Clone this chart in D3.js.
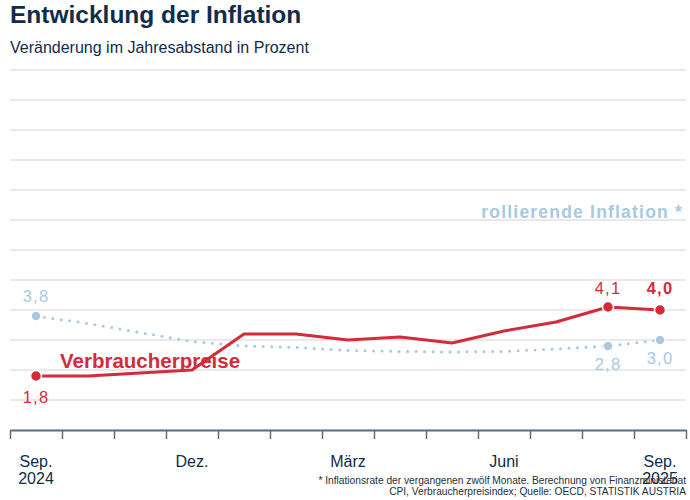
<!DOCTYPE html>
<html>
<head>
<meta charset="utf-8">
<script src="https://cdn.jsdelivr.net/npm/d3@7"></script>
<style>
  body { margin: 0; background: #fff; }
  svg { display: block; font-family: "Liberation Sans", Arial, sans-serif; }
</style>
</head>
<body>
<div id="chart"></div>
<script>
// Monate September 2024 bis September 2025
const months = ["Sep. 2024", "Okt.", "Nov.", "Dez.", "Jän.", "Feb.", "März", "Apr.", "Mai", "Juni", "Juli", "Aug.", "Sep. 2025"];
// Verbraucherpreise, Veränderung zum Vorjahresmonat
const cpi = [1.8, 1.8, 1.9, 2.0, 3.2, 3.2, 3.0, 3.1, 2.9, 3.3, 3.6, 4.1, 4.0];
// rollierende Inflation (vergangene zwölf Monate)
const rolling = [3.8, 3.55, 3.25, 2.95, 2.8, 2.75, 2.65, 2.62, 2.6, 2.62, 2.7, 2.8, 3.0];
// beschriftete Achsenmonate
const tickLabels = [["Sep.", "2024"], null, null, ["Dez."], null, null, ["März"], null, null, ["Juni"], null, null, ["Sep.", "2025"]];
const yTicks = [1, 2, 3, 4, 5, 6, 7, 8, 9, 10, 11, 12];

const width = 690, height = 500;
const navy = "#0f2d4a";
const red = "#d42b3a";
const blue = "#a9c9e2";

const svg = d3.select("#chart").append("svg")
    .attr("width", width)
    .attr("height", height);

const x = d3.scalePoint().domain(months).range([10, 686]).padding(0.5);
const y = d3.scaleLinear().domain([0, 12]).range([430, 70]);

// Titel
svg.append("text")
    .attr("x", 10).attr("y", 23)
    .attr("font-size", 24.5).attr("font-weight", "bold")
    .attr("fill", navy)
    .text("Entwicklung der Inflation");

svg.append("text")
    .attr("x", 10).attr("y", 53)
    .attr("font-size", 16)
    .attr("fill", navy)
    .text("Veränderung im Jahresabstand in Prozent");

// Gitterlinien
svg.append("g")
    .selectAll("line")
    .data(yTicks)
    .enter()
    .append("line")
    .attr("x1", 10).attr("x2", 686)
    .attr("y1", d => y(d)).attr("y2", d => y(d))
    .attr("stroke", "#e2e2e2")
    .attr("stroke-width", 1.5);

// x-Achse mit Strichen an den Monatsgrenzen
const xb = d3.scaleLinear().domain([-0.5, months.length - 0.5]).range([10, 686]);
const axis = svg.append("g")
    .attr("transform", `translate(0,${y(0)})`)
    .call(d3.axisBottom(xb)
        .tickValues(d3.range(-0.5, months.length))
        .tickFormat("")
        .tickSize(9)
        .tickSizeOuter(0));
axis.select(".domain").attr("stroke", "#5d6d7b").attr("stroke-width", 2);
axis.selectAll(".tick line").attr("stroke", "#5d6d7b").attr("stroke-width", 1.5);

// Fußnote (liegt wie im Original unter der Achsenbeschriftung)
const note = svg.append("text")
    .attr("x", 686).attr("y", 484)
    .attr("text-anchor", "end")
    .attr("font-size", 10.2)
    .attr("fill", "#1e2f40");
note.append("tspan").attr("x", 686).text("* Inflationsrate der vergangenen zwölf Monate. Berechnung von Finanzministeriat");
note.append("tspan").attr("x", 686).attr("dy", 11).text("CPI, Verbraucherpreisindex; Quelle: OECD, STATISTIK AUSTRIA");

const lbl = svg.append("g");
months.forEach((m, i) => {
    if (!tickLabels[i]) return;
    const t = lbl.append("text")
        .attr("x", x(m)).attr("y", 467)
        .attr("text-anchor", "middle")
        .attr("font-size", 16)
        .attr("fill", navy);
    tickLabels[i].forEach((s, k) => {
        t.append("tspan").attr("x", x(m)).attr("dy", k ? 17 : 0).text(s);
    });
});

const line = d3.line()
    .x((d, i) => x(months[i]))
    .y(d => y(d));

// rollierende Inflation (gepunktet)
svg.append("path")
    .datum(rolling)
    .attr("d", line)
    .attr("fill", "none")
    .attr("stroke", blue)
    .attr("stroke-width", 3)
    .attr("stroke-linecap", "round")
    .attr("stroke-dasharray", "0,8.5");

// Verbraucherpreise
svg.append("path")
    .datum(cpi)
    .attr("d", line)
    .attr("fill", "none")
    .attr("stroke", red)
    .attr("stroke-width", 3)
    .attr("stroke-linejoin", "round");

const ends = [0, months.length - 2, months.length - 1];
svg.append("g")
    .selectAll("circle")
    .data(ends)
    .enter()
    .append("circle")
    .attr("cx", i => x(months[i]))
    .attr("cy", i => y(rolling[i]))
    .attr("r", 5)
    .attr("fill", blue)
    .attr("stroke", "#fff")
    .attr("stroke-width", 1.5);

svg.append("g")
    .selectAll("circle")
    .data(ends)
    .enter()
    .append("circle")
    .attr("cx", i => x(months[i]))
    .attr("cy", i => y(cpi[i]))
    .attr("r", 5.5)
    .attr("fill", red)
    .attr("stroke", "#fff")
    .attr("stroke-width", 1.5);

// Wertebeschriftungen
const fmt = v => d3.format(".1f")(v).replace(".", ",");
const valueLabel = (i, v, dy, color, bold) => {
    svg.append("text")
        .attr("x", x(months[i])).attr("y", y(v) + dy)
        .attr("text-anchor", "middle")
        .attr("font-size", 16.5)
        .attr("letter-spacing", 1.2)
        .attr("font-weight", bold ? "bold" : "normal")
        .attr("fill", color)
        .text(fmt(v));
};
valueLabel(0, rolling[0], -14, blue);
valueLabel(0, cpi[0], 27, red);
valueLabel(11, cpi[11], -13, red);
valueLabel(12, cpi[12], -16, red, true);
valueLabel(11, rolling[11], 24, blue);
valueLabel(12, rolling[12], 24, blue);

// Serienbeschriftungen
svg.append("text")
    .attr("x", 60).attr("y", 368)
    .attr("font-size", 20.5).attr("font-weight", "bold")
    .attr("fill", red)
    .text("Verbraucherpreise");

svg.append("text")
    .attr("x", 683).attr("y", 218)
    .attr("text-anchor", "end")
    .attr("font-size", 17.5).attr("font-weight", "bold")
    .attr("letter-spacing", 1.2)
    .attr("fill", blue)
    .text("rollierende Inflation *");
</script>
</body>
</html>
